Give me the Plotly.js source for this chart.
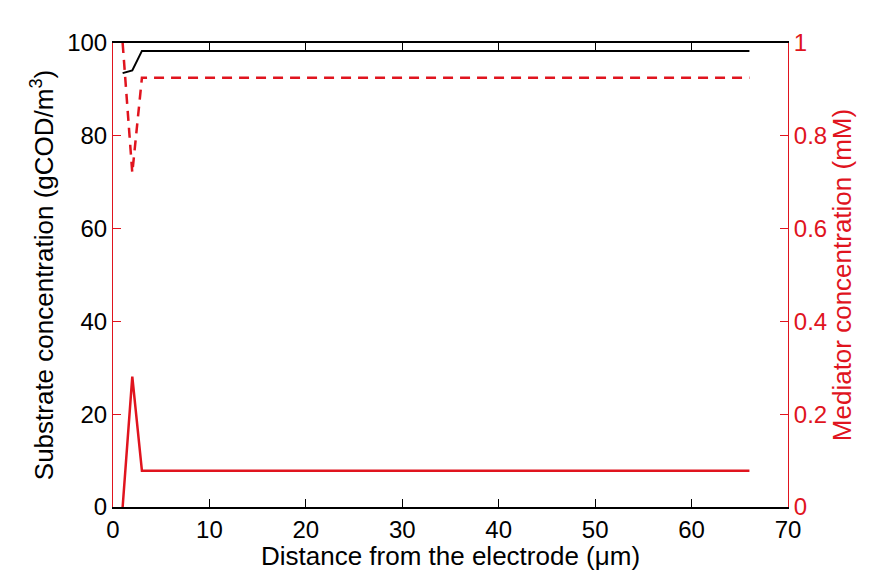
<!DOCTYPE html>
<html>
<head>
<meta charset="utf-8">
<script src="https://cdn.plot.ly/plotly-3.0.1.min.js"></script>
<style>html,body{margin:0;padding:0;background:#fff;}#chart{width:870px;height:571px;}</style>
</head>
<body>
<div id="chart"></div>
<script>
// Distance from the electrode (µm)
const distance = [1, 2, 3, 66];
// Substrate concentration (gCOD/m3), left axis
const substrate = [93.5, 94.1, 98.3, 98.3];
// Mediator concentrations (mM), right axis
const mediatorDashed = [1.0, 0.72, 0.925, 0.925];
const mediatorSolid = [0.0, 0.281, 0.078, 0.078];

const xTicks = [0, 10, 20, 30, 40, 50, 60, 70];
const yTicks = [0, 20, 40, 60, 80, 100];
const y2Ticks = [0, 0.2, 0.4, 0.6, 0.8, 1];
const y2Labels = ['0', '0.2', '0.4', '0.6', '0.8', '1'];

const red = '#e0141e';
const font = 'Liberation Sans, Arial, sans-serif';

const traces = [
  {x: distance, y: substrate, mode: 'lines', line: {color: '#000', width: 2}, yaxis: 'y', hoverinfo: 'skip'},
  {x: distance, y: mediatorDashed, mode: 'lines', line: {color: red, width: 2.5, dash: '10px,7px'}, yaxis: 'y2', hoverinfo: 'skip'},
  {x: distance, y: mediatorSolid, mode: 'lines', line: {color: red, width: 2.5}, yaxis: 'y2', hoverinfo: 'skip'}
];

const layout = {
  width: 870, height: 571,
  margin: {l: 113, r: 82, t: 43, b: 64},
  paper_bgcolor: '#fff', plot_bgcolor: '#fff',
  showlegend: false,
  font: {family: font, size: 24, color: '#000'},
  xaxis: {
    range: [0, 70], tickvals: xTicks, ticks: 'inside', ticklen: 8, tickcolor: '#000',
    showline: true, linecolor: '#000', linewidth: 2, mirror: 'ticks', showgrid: false, zeroline: false,
    tickfont: {size: 24, color: '#000'},
    title: {text: 'Distance from the electrode (\u03bcm)', font: {size: 26, color: '#000'}, standoff: 0}
  },
  yaxis: {
    range: [0, 100], tickvals: yTicks, ticks: 'inside', ticklen: 8, tickcolor: red,
    showline: true, linecolor: red, linewidth: 1, showgrid: false, zeroline: false,
    tickfont: {size: 24, color: '#000'},
    title: {text: 'Substrate concentration (gCOD/m<sup>3</sup>)', font: {size: 26, color: '#000'}, standoff: 6}
  },
  yaxis2: {
    range: [0, 1], tickvals: y2Ticks, ticktext: y2Labels, ticks: 'inside', ticklen: 8, tickcolor: red,
    overlaying: 'y', side: 'right', showline: true, linecolor: red, linewidth: 1,
    showgrid: false, zeroline: false,
    tickfont: {size: 24, color: red},
    title: {text: 'Mediator concentration (mM)', font: {size: 26, color: red}, standoff: 6}
  }
};

Plotly.newPlot('chart', traces, layout, {staticPlot: true, displayModeBar: false});
</script>
</body>
</html>
